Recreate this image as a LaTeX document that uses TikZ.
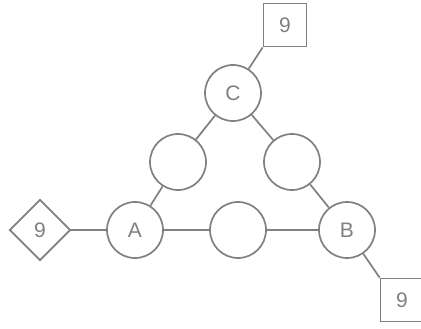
\documentclass[tikz,border=0pt]{standalone}
\usepackage{fontspec}
\setmainfont{Liberation Sans}
\usetikzlibrary{shapes.geometric}
\definecolor{lgray}{RGB}{128,128,128}
\begin{document}
\begin{tikzpicture}[x=1pt,y=1pt,line width=1.7pt,draw=lgray,text=lgray,
  disk/.style={circle,draw=lgray,minimum size=56pt,inner sep=0pt},
  box/.style={rectangle,draw=lgray,minimum size=43pt,inner sep=0pt},
  rbox/.style={diamond,draw=lgray,minimum size=61pt,inner sep=0pt}]
\fontsize{21}{21}\selectfont
\useasboundingbox(0,0)rectangle(421,-329);
\node[box](top)at(285,-25){9};
\node[disk](C)at(233,-93){C};
\node[disk](L)at(178,-162){};
\node[disk](R)at(292,-162){};
\node[disk](A)at(135,-230){A};
\node[disk](M)at(238,-230){};
\node[disk](B)at(347,-230){B};
\node[rbox](left)at(40,-230){9};
\node[box](bot)at(402,-300){9};
\draw[lgray](left.east)--(A)--(M)--(B);
\draw[lgray](A)--(L)--(C)--(R)--(B);
\draw[lgray](C)--(top.south west);
\draw[lgray](B)--(bot.north west);
\end{tikzpicture}
\end{document}
